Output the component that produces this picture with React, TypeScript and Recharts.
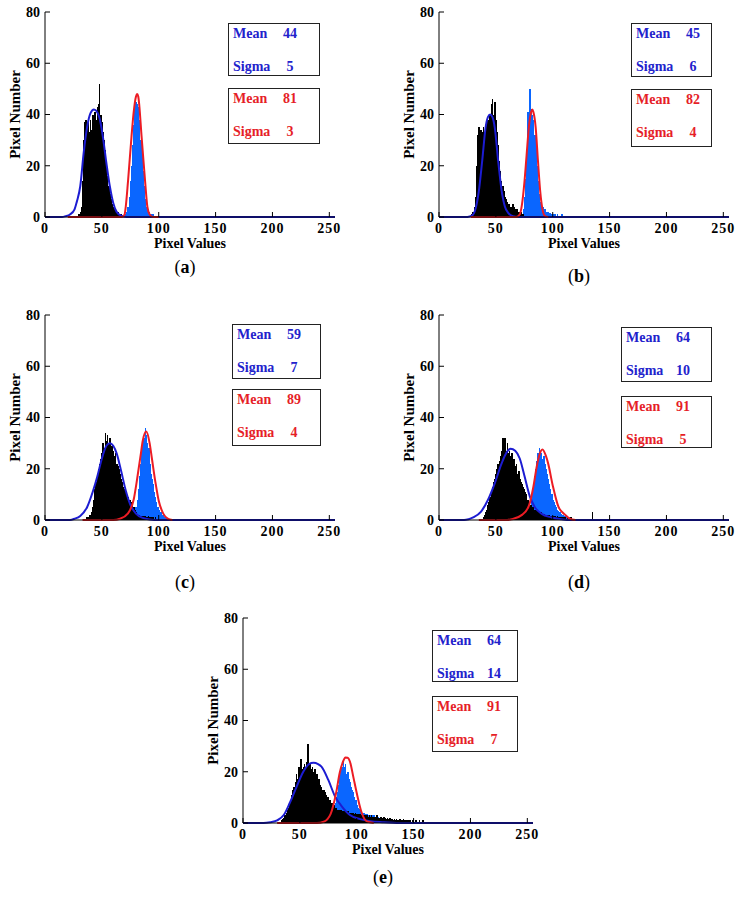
import React from "react";
import {
  ComposedChart,
  Bar,
  Line,
  XAxis,
  YAxis
} from "recharts";

/* ---------- AXES ---------- */

const X_TICKS = [0, 50, 100, 150, 200, 250];
const Y_TICKS = [0, 20, 40, 60, 80];
const X_MAX = 255;

/* ---------- STATS (text boxes) ---------- */

const panelNames = ["a", "b", "c", "d", "e"];
const blueMeans = [44, 45, 59, 64, 64];
const blueSigmas = [5, 6, 7, 10, 14];
const redMeans = [81, 82, 89, 91, 91];
const redSigmas = [3, 4, 4, 5, 7];

/* ---------- PANEL A ---------- */

const aBlackFrom = 30;
const aBlack = [1,2,4,14,30,37,38,35,37,33, 38,34,40,37,41,38,43,44,52,40, 37,33,30,26,21,16,12,9,7,5, 4,3,3,2,2,1,1,1];
const aBlueFrom = 71;
const aBlue = [1,2,4,8,14,20,28,36,42,45, 44,43,38,30,26,18,12,7,4,3, 2,1,1,1,1,0.5,0.5,0.5];
const aBlueFit = [[0,0],[15,0],[18,0.3],[22,1],[26,3],[28,6],[31,12],[34,25],[37,35],[40,40.5],[43,42],[45,41.5],[48,38.5],[51,31],[54,21],[57,12],[60,5.5],[63,2],[67,0.5],[72,0],[255,0]];
const aRedFit = [[20,0],[68,0],[70,1],[71,4],[73,14],[76,31],[78,41],[80,47],[81,48],[82,47],[85,31],[88,14],[90,4],[92,1],[95,0],[100,0]];

/* ---------- PANEL B ---------- */

const bBlackFrom = 29;
const bBlack = [1,2,4,8,20,32,35,33,34,33, 35,32,34,36,38,37,40,44,46,40, 45,38,33,28,22,18,14,12,10,8, 7,6,5,5,4,4,5,4,3,3, 3,2,2,2,1,1];
const bBlueFrom = 74;
const bBlue = [3,8,15,25,41,30,50,42,40,38, 32,28,20,14,9,6,5,4,3,3, 2,2,2,1.5,1.5,1,1,1,1,0.5, 1,0.5,0.5,0.5,1,0.5,0.5,0.5,0.5,0, 0.5,0,0.5];
const bBlueFit = [[0,0],[25,0],[29,0.5],[32,3],[35,10],[38,22],[41,35],[43,39],[45,40],[47,39],[49,35],[52,22],[55,10.5],[58,4],[61,1.5],[65,0.3],[70,0],[255,0]];
const bRedFit = [[28,0],[68,0],[71,1],[73,5],[75,13],[77,24],[79,35],[81,41],[82,42],[83,41],[85,35],[87,22],[89,10],[91,3],[93,0.5],[96,0]];

/* ---------- PANEL C ---------- */

const cBlackFrom = 36;
const cBlack = [0.5,1,1,2,2,3,5,8,12,15, 18,20,22,24,26,30,28,34,31,33, 30,32,28,29,27,25,26,22,21,20, 18,16,15,13,12,10,9,9,8,8, 7,6,5,4,3,2.5,2,2,1.5,1.5, 1.5,1,1.5,1,1,1.5,1,1,1,1, 0.5,1,0.5,0.5,0.5];
const cBlueFrom = 75;
const cBlue = [1,1.5,2,2.5,3,5,8,12,17,22, 27,30,32,36,33,30,28,22,18,16, 14,11,9,7,5,4,3,3,2,2, 1,1,0.5,0.5];
const cBlueFit = [[0,0],[22,0],[26,0.5],[31,1.6],[37,5],[42,11],[46,17],[50,24],[54,29],[57,30],[60,29],[63,26],[67,19],[71,11.5],[75,6],[80,2.5],[86,0.8],[92,0.2],[100,0],[255,0]];
const cRedFit = [[33,0],[60,0],[66,0.5],[73,2.6],[78,8],[81,16],[84,25],[86,31],[89,34.5],[92,30],[94,24],[97,15],[100,7.5],[104,2.5],[108,0.5],[112,0]];

/* ---------- PANEL D ---------- */

const dBlackFrom = 38;
const dBlack = [0.5,1,2,3,4,6,7,9,11,13, 15,16,18,20,22,23,25,27,32,28, 32,27,30,26,27,25,26,22,24,21, 22,18,19,16,15,14,13,12,11,10, 8,7,6,6,5,5,4,4,4,3, 3,3,3,2.5,2.5,2,2,2,2,2, 1.5,1.5,1.5,1.5,1.5,1,1.5,1,1,1, 1,1,1,1,0.5,1,0.5,0.5,1,0.5, 0.5,0.5,0.5,0.5,0.5,0.5,0.5,0.5,0.5,0.5, 0,0.5,0,0,0,0,0,3];
const dBlueFrom = 76;
const dBlue = [1,1.5,2,3,5,8,11,14,17,20, 23,26,28,27,26,24,25,22,20,18, 16,14,12,10,8,7,6,5,4,3.5, 3,2.5,2,2,1.5,1.5,1,1,1,0.5];
const dBlueFit = [[0,0],[22,0],[26,0.3],[30,1],[37,3.3],[43,7.8],[49,14.3],[55,22],[59,26],[63,27.8],[67,27],[71,24],[75,17.5],[80,9],[84,5.2],[90,2.5],[99,1],[108,0.3],[115,0],[255,0]];
const dRedFit = [[35,0],[60,0],[64,0.3],[73,2],[79,5.5],[83,13],[86,21],[88,25],[91,27.5],[94,25],[96,22],[100,13.5],[105,5.2],[111,2],[115,0.5],[120,0]];

/* ---------- PANEL E ---------- */

const eBlackFrom = 33;
const eBlack = [0.5,1,1.5,2,3,4,5,6,8,9, 11,13,14,16,19,17,22,20,25,21, 22,23,21,24,31,22,23,21,22,20, 21,18,19,16,17,15,14,13,13,12, 11,10,10,9,9,8,7,7,6,6, 5,5,5,5,4.5,4.5,4.5,4.5,4,4.5, 4,4,4,4,4,3.5,4,3.5,3.5,3.5, 3.5,3,3.5,3,3,3,3,2.5,3,2.5, 3,2.5,2.5,2.5,2,3,2,2,2.5,2, 2,2.5,2,1.5,2,1.5,2,1.5,1.5,1, 1.5,1,1.5,1,1,1.5,1,1,1.5,1, 1,1,0.5,1,1,0.5,1,1,0.5,1, 0.5,0.5,1,0.5,0.5,1,0.5,0.5,0.5,0, 0.5,0,0.5,0,0,0.5,0,0.5,0,0, 0,0.5,0];
const eBlueFrom = 76;
const eBlue = [3,4,5,6,7,8,10,12,15,18, 21,22,24,22,23,19,20,17,16,14, 13,12,10,9,7,6,5.5,5,4.5,4, 4,3.5,3.5,3.5,3,3,3,3,3,3, 2.5,2.5,2.5,2.5,2];
const eBlueFit = [[0,0],[18,0],[24,0.3],[30,1],[36,3.2],[41,7.7],[47,14],[53,20],[58,23],[62,23.5],[66,23],[69,22],[75,16.8],[81,10.3],[87,6.4],[94,3.1],[103,1.5],[112,0.7],[124,0.3],[135,0],[255,0]];
const eRedFit = [[30,0],[65,0],[71,0.5],[77,3.5],[82,12],[85,19.5],[88,24],[90,25.6],[92,25.5],[94,24],[97,18],[100,11.7],[104,4.5],[109,0.6],[115,0]];

/* ---------- STYLE ---------- */

const FONT = '"Liberation Serif", "Times New Roman", serif';
const BLUE_LINE = "#1c1cd2";
const BLUE_BAR = "#0a66ff";
const RED = "#ec1c24";
const BLUE_TEXT = "#2222cc";
const RED_TEXT = "#e61e28";

/* ---------- BUILD ROWS ---------- */

function buildRows(blackFrom:number, black:number[], blueFrom:number, blue:number[], blueFit:number[][], redFit:number[][]){

  const rows:any[] = [];

  for(let x = 0; x <= X_MAX; x++){
    rows.push({
      x,
      black: black[x - blackFrom] ?? null,
      blue: blue[x - blueFrom] ?? null,
      fitBlue: null,
      fitRed: null
    });
  }

  blueFit.forEach(([x, y]) => { rows[x].fitBlue = y; });
  redFit.forEach(([x, y]) => { rows[x].fitRed = y; });

  return rows;

}

const panelRows = [
  buildRows(aBlackFrom, aBlack, aBlueFrom, aBlue, aBlueFit, aRedFit),
  buildRows(bBlackFrom, bBlack, bBlueFrom, bBlue, bBlueFit, bRedFit),
  buildRows(cBlackFrom, cBlack, cBlueFrom, cBlue, cBlueFit, cRedFit),
  buildRows(dBlackFrom, dBlack, dBlueFrom, dBlue, dBlueFit, dRedFit),
  buildRows(eBlackFrom, eBlack, eBlueFrom, eBlue, eBlueFit, eRedFit)
];

/* ---------- LAYOUT ---------- */

const layouts = [
  { plotLeft: 45, plotTop: 12, captionY: 267, box1: [183, 11, 92, 53], box2: [183, 76, 92, 56] },
  { plotLeft: 439, plotTop: 12, captionY: 276, box1: [192, 11, 81, 54], box2: [192, 77, 81, 58] },
  { plotLeft: 45, plotTop: 315, captionY: 582, box1: [187, 9, 89, 55], box2: [187, 74, 89, 57] },
  { plotLeft: 439, plotTop: 315, captionY: 582, box1: [182, 12, 91, 55], box2: [182, 81, 91, 52] },
  { plotLeft: 243, plotTop: 618, captionY: 877, box1: [189, 12, 86, 52], box2: [189, 78, 86, 56] }
];

const xTickStyle = { fill: "#000", fontSize: 14, fontWeight: 700, fontFamily: FONT, letterSpacing: 1 };
const yTickStyle = { fill: "#000", fontSize: 14, fontWeight: 700, fontFamily: FONT };

/* ---------- HISTOGRAM BAR ---------- */

// bins are ~1.1px wide, so widen a little and snap to pixels to keep them solid
function HistBar(props:any){

  const {x, y, width, height, fill} = props;

  if(!height || height <= 0) return null;

  return(
    <rect
      x={x}
      y={y}
      width={width + 0.6}
      height={height}
      fill={fill}
      shapeRendering="crispEdges"
    />
  );

}

/* ---------- STAT BOX ---------- */

function StatBox({box, mean, sigma, color}:any){

  const [left, top, width, height] = box;

  const text:any = {
    position: "absolute",
    fontFamily: FONT,
    fontWeight: 700,
    fontSize: 14,
    lineHeight: "16px",
    color,
    whiteSpace: "nowrap"
  };

  return(

    <div
      style={{
        position: "absolute",
        left: 45 + left,
        top: 12 + top,
        width,
        height,
        border: "1px solid #222",
        boxSizing: "border-box"
      }}
    >
      <span style={{...text, left: 4, top: 2}}>Mean</span>
      <span style={{...text, left: 61, top: 2, transform: "translateX(-50%)"}}>{mean}</span>
      <span style={{...text, left: 4, top: 35}}>Sigma</span>
      <span style={{...text, left: 61, top: 35, transform: "translateX(-50%)"}}>{sigma}</span>
    </div>

  );

}

/* ---------- PANEL ---------- */

function Panel({index}:{index:number}){

  const lay = layouts[index];
  const rows = panelRows[index];
  const originTop = lay.plotTop - 12;

  return(

    <div
      style={{
        position: "absolute",
        left: lay.plotLeft - 45,
        top: originTop,
        width: 370,
        height: 300
      }}
    >

      <ComposedChart
        width={370}
        height={260}
        data={rows}
        margin={{top:12, right:35, bottom:12, left:10}}
        barGap="-100%"
        barCategoryGap={0}
      >

        <XAxis
          dataKey="x"
          type="number"
          domain={[0, X_MAX]}
          ticks={X_TICKS}
          height={31}
          stroke="#000"
          tickSize={-5}
          tickMargin={11}
          tick={xTickStyle}
          label={{value: "Pixel Values", position: "insideBottom", offset: 0, fill: "#000", fontSize: 14, fontWeight: 700, fontFamily: FONT}}
        />

        <XAxis
          xAxisId="top"
          orientation="top"
          type="number"
          domain={[0, X_MAX]}
          ticks={X_TICKS}
          height={0}
          stroke="#000"
          tickSize={-5}
          tick={false}
        />

        <YAxis
          type="number"
          domain={[0, 80]}
          ticks={Y_TICKS}
          width={35}
          stroke="#000"
          tickSize={-5}
          tickMargin={10}
          tick={yTickStyle}
          label={{value: "Pixel Number", angle: -90, position: "insideLeft", offset: 5, fill: "#000", fontSize: 15, fontWeight: 700, fontFamily: FONT, style: {textAnchor: "middle"}}}
        />

        <YAxis
          yAxisId="right"
          orientation="right"
          type="number"
          domain={[0, 80]}
          ticks={Y_TICKS}
          width={0}
          stroke="#000"
          tickSize={-5}
          tick={false}
        />

        <Bar dataKey="blue" fill={BLUE_BAR} shape={<HistBar />} isAnimationActive={false} />
        <Bar dataKey="black" fill="#000" shape={<HistBar />} isAnimationActive={false} />

        <Line
          dataKey="fitBlue"
          type="monotone"
          stroke={BLUE_LINE}
          strokeWidth={2}
          dot={false}
          connectNulls
          isAnimationActive={false}
        />

        <Line
          dataKey="fitRed"
          type="monotone"
          stroke={RED}
          strokeWidth={2}
          dot={false}
          connectNulls
          isAnimationActive={false}
        />

      </ComposedChart>

      <StatBox box={lay.box1} mean={blueMeans[index]} sigma={blueSigmas[index]} color={BLUE_TEXT} />
      <StatBox box={lay.box2} mean={redMeans[index]} sigma={redSigmas[index]} color={RED_TEXT} />

      {/* CAPTION */}

      <div
        style={{
          position: "absolute",
          left: 185,
          top: lay.captionY - originTop,
          transform: "translate(-50%, -50%)",
          fontFamily: FONT,
          fontSize: 18,
          color: "#000",
          whiteSpace: "nowrap"
        }}
      >
        (<b>{panelNames[index]}</b>)
      </div>

    </div>

  );

}

export default function App(){

  return(

    <div
      style={{
        position: "absolute",
        left: 0,
        top: 0,
        width: 742,
        height: 901,
        background: "#fff",
        overflow: "hidden"
      }}
    >
      {panelNames.map((name, i) => (
        <Panel key={name} index={i} />
      ))}
    </div>

  );

}
